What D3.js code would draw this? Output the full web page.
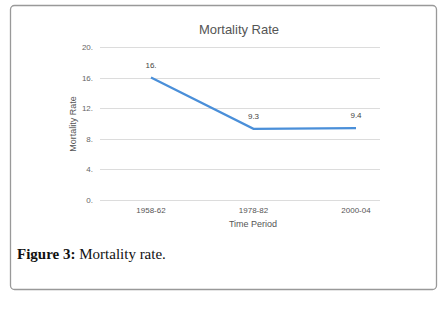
<!DOCTYPE html>
<html>
<head>
<meta charset="utf-8">
<script src="https://cdn.jsdelivr.net/npm/d3@7"></script>
<style>
  body { margin: 0; background: #fff; }
</style>
</head>
<body>
<div id="chart"></div>
<script>
// chart data
const periods = ["1958-62", "1978-82", "2000-04"]
const mortality = [16, 9.3, 9.4]
const pointLabels = ["16.", "9.3", "9.4"]
const yTicks = [0, 4, 8, 12, 16, 20]
const yTickLabels = ["0.", "4.", "8.", "12.", "16.", "20."]

const W = 445, H = 310

const svg = d3.select("#chart").append("svg")
    .attr("width", W)
    .attr("height", H)

// outer frame
svg.append("rect")
    .attr("x", 10.5).attr("y", 5.5)
    .attr("width", 426).attr("height", 284)
    .attr("rx", 4)
    .attr("fill", "#fff")
    .attr("stroke", "#999")
    .attr("stroke-width", 1.3)

const x = d3.scalePoint()
    .domain(periods)
    .range([151, 356])

const y = d3.scaleLinear()
    .domain([0, 20])
    .range([200, 47])

// gridlines
svg.append("g")
    .selectAll("line")
    .data(yTicks)
    .join("line")
    .attr("x1", 100).attr("x2", 380)
    .attr("y1", d => Math.round(y(d)) + 0.5)
    .attr("y2", d => Math.round(y(d)) + 0.5)
    .attr("stroke", "#dcdcdc")
    .attr("stroke-width", 1)

// y tick labels
svg.append("g")
    .selectAll("text")
    .data(yTicks)
    .join("text")
    .attr("x", 93)
    .attr("y", d => y(d) + 3)
    .attr("text-anchor", "end")
    .attr("font-family", "Liberation Sans, Arial, sans-serif")
    .attr("font-size", 8)
    .attr("fill", "#666")
    .text((d, i) => yTickLabels[i])

// x tick labels
svg.append("g")
    .selectAll("text")
    .data(periods)
    .join("text")
    .attr("x", d => x(d))
    .attr("y", 213)
    .attr("text-anchor", "middle")
    .attr("font-family", "Liberation Sans, Arial, sans-serif")
    .attr("font-size", 8)
    .attr("fill", "#555")
    .text(d => d)

// axis titles
svg.append("text")
    .attr("x", 253).attr("y", 227)
    .attr("text-anchor", "middle")
    .attr("font-family", "Liberation Sans, Arial, sans-serif")
    .attr("font-size", 9)
    .attr("fill", "#555")
    .text("Time Period")

svg.append("text")
    .attr("transform", "translate(76,124) rotate(-90)")
    .attr("text-anchor", "middle")
    .attr("font-family", "Liberation Sans, Arial, sans-serif")
    .attr("font-size", 9)
    .attr("fill", "#555")
    .text("Mortality Rate")

// title
svg.append("text")
    .attr("x", 239).attr("y", 34)
    .attr("text-anchor", "middle")
    .attr("font-family", "Liberation Sans, Arial, sans-serif")
    .attr("font-size", 13)
    .attr("fill", "#555")
    .text("Mortality Rate")

// line
const line = d3.line()
    .x((d, i) => x(periods[i]))
    .y(d => y(d))

svg.append("path")
    .datum(mortality)
    .attr("d", line)
    .attr("fill", "none")
    .attr("stroke", "#4a8fd9")
    .attr("stroke-width", 2.2)

// point labels
svg.append("g")
    .selectAll("text")
    .data(mortality)
    .join("text")
    .attr("x", (d, i) => x(periods[i]))
    .attr("y", d => y(d) - 10)
    .attr("text-anchor", "middle")
    .attr("font-family", "Liberation Sans, Arial, sans-serif")
    .attr("font-size", 8)
    .attr("fill", "#444")
    .text((d, i) => pointLabels[i])

// caption
const cap = svg.append("text")
    .attr("x", 17).attr("y", 259)
    .attr("font-family", "Liberation Serif, Times New Roman, serif")
    .attr("font-size", 15)
    .attr("fill", "#111")
cap.append("tspan").attr("font-weight", "bold").text("Figure 3:")
cap.append("tspan").text(" Mortality rate.")
</script>
</body>
</html>
